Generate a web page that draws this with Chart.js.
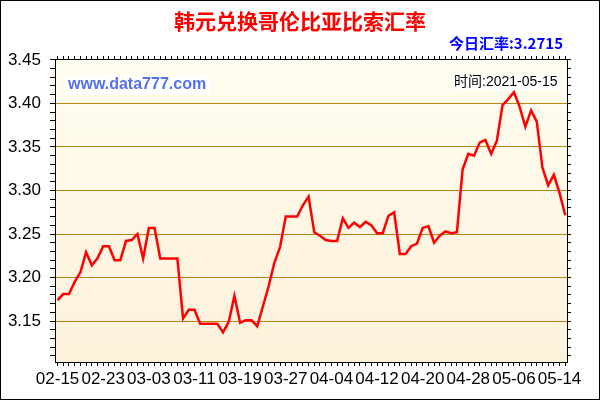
<!DOCTYPE html>
<html>
<head>
<meta charset="utf-8">
<script src="https://cdn.jsdelivr.net/npm/chart.js@4"></script>
<style>
html,body{margin:0;padding:0;background:#fff;}
#wrap{width:600px;height:400px;}
</style>
</head>
<body>
<div id="wrap"><canvas id="c" width="600" height="400"></canvas></div>
<script>
const chartTitle = '韩元兑换哥伦比亚比索汇率';
const todayRateText = '今日汇率:3.2715';
const timeText = '时间:2021-05-15';
const watermark = 'www.data777.com';

const dates = [
'02-15','02-16','02-17','02-18','02-19','02-20','02-21','02-22','02-23','02-24','02-25','02-26','02-27','02-28',
'03-01','03-02','03-03','03-04','03-05','03-06','03-07','03-08','03-09','03-10','03-11','03-12','03-13','03-14','03-15','03-16',
'03-17','03-18','03-19','03-20','03-21','03-22','03-23','03-24','03-25','03-26','03-27','03-28','03-29','03-30','03-31',
'04-01','04-02','04-03','04-04','04-05','04-06','04-07','04-08','04-09','04-10','04-11','04-12','04-13','04-14','04-15',
'04-16','04-17','04-18','04-19','04-20','04-21','04-22','04-23','04-24','04-25','04-26','04-27','04-28','04-29','04-30',
'05-01','05-02','05-03','05-04','05-05','05-06','05-07','05-08','05-09','05-10','05-11','05-12','05-13','05-14','05-15'
];

const rates = [
3.174,3.181,3.181,3.195,3.206,3.229,3.214,3.222,3.236,3.236,
3.220,3.220,3.242,3.243,3.250,3.222,3.257,3.257,3.222,3.222,
3.222,3.222,3.153,3.163,3.163,3.147,3.147,3.147,3.147,3.137,
3.149,3.179,3.148,3.151,3.151,3.144,3.167,3.190,3.217,3.235,
3.270,3.270,3.270,3.283,3.293,3.252,3.248,3.243,3.242,3.242,
3.268,3.257,3.263,3.258,3.264,3.260,3.251,3.251,3.271,3.275,
3.227,3.227,3.236,3.239,3.257,3.259,3.240,3.248,3.253,3.251,
3.252,3.324,3.342,3.340,3.355,3.358,3.342,3.357,3.398,3.405,
3.413,3.396,3.373,3.392,3.379,3.326,3.306,3.318,3.297,3.2715
];

const xTickLabels = ['02-15','02-23','03-03','03-11','03-19','03-27','04-04','04-12','04-20','04-28','05-06','05-14'];
const yTickLabels = [3.15,3.20,3.25,3.30,3.35,3.40,3.45];
const yMinorTicks = [3.11,3.12,3.13,3.14,3.15,3.16,3.17,3.18,3.19,3.20,3.21,3.22,3.23,3.24,3.25,3.26,3.27,3.28,3.29,3.30,
  3.31,3.32,3.33,3.34,3.35,3.36,3.37,3.38,3.39,3.40,3.41,3.42,3.43,3.44,3.45];

const narrow = "'Liberation Sans Narrow', 'Arial Narrow', Arial, sans-serif";
const isMajor = v => yTickLabels.some(t => Math.abs(t - v) < 1e-6);

const dayTicks = axis => { axis.ticks = dates.map((d, i) => ({value: i})); };
const yTicks = axis => { axis.ticks = yMinorTicks.map(v => ({value: v})); };

const decor = {
  id: 'decor',
  beforeDraw(chart) {
    const {ctx, chartArea: a} = chart;
    ctx.save();
    ctx.fillStyle = '#ffffff';
    ctx.fillRect(0, 0, chart.width, chart.height);
    const g = ctx.createLinearGradient(0, a.top, 0, a.bottom);
    g.addColorStop(0, '#FFFDF0');
    g.addColorStop(1, '#FDF1DA');
    ctx.fillStyle = g;
    ctx.fillRect(a.left, a.top, a.right - a.left, a.bottom - a.top);
    ctx.restore();
  },
  afterDraw(chart) {
    const {ctx} = chart;
    ctx.save();
    ctx.font = "bold 15px 'Noto Sans CJK SC', Arial, sans-serif";
    ctx.fillStyle = '#0000FF';
    ctx.textAlign = 'right';
    ctx.textBaseline = 'middle';
    ctx.fillText(todayRateText, 563, 43);
    ctx.fillStyle = '#ffffff';
    ctx.fillRect(66, 76, 144, 18);
    ctx.font = "bold 16px 'Liberation Sans', Arial, sans-serif";
    ctx.fillStyle = '#5470EA';
    ctx.textAlign = 'left';
    ctx.fillText(watermark, 68, 85);
    ctx.font = "14px 'Liberation Sans', 'Noto Sans CJK SC', sans-serif";
    const w = ctx.measureText(timeText).width;
    ctx.fillStyle = '#ffffff';
    ctx.fillRect(452, 74, w + 4, 16);
    ctx.fillStyle = '#000000';
    ctx.fillText(timeText, 454, 82);
    ctx.strokeStyle = '#000000';
    ctx.lineWidth = 1;
    ctx.strokeRect(0.5, 0.5, chart.width - 1, chart.height - 1);
    ctx.restore();
  }
};

new Chart(document.getElementById('c'), {
  type: 'line',
  data: {
    datasets: [{
      data: rates.map((v, i) => ({x: i, y: v})),
      borderColor: '#FF0000',
      borderWidth: 2.5,
      pointRadius: 0,
      tension: 0,
      fill: false
    }]
  },
  options: {
    responsive: false,
    animation: false,
    devicePixelRatio: 1,
    layout: {padding: 0},
    plugins: {
      legend: {display: false},
      tooltip: {enabled: false},
      title: {
        display: true,
        text: chartTitle,
        color: '#FF0000',
        font: {family: "'Noto Sans CJK SC', sans-serif", size: 21, weight: 'bold'},
        padding: {top: 8, bottom: 0}
      }
    },
    scales: {
      x: {
        type: 'linear', position: 'bottom', min: -0.45, max: 89.3,
        afterBuildTicks: dayTicks,
        afterFit: s => { s.height = 38; },
        ticks: {
          autoSkip: false, maxRotation: 0, minRotation: 0, padding: 3,
          color: '#000', font: {family: narrow, size: 17},
          callback: v => xTickLabels.includes(dates[v]) ? dates[v] : ''
        },
        grid: {drawOnChartArea: false, tickLength: 4, tickColor: '#000'},
        border: {color: '#000', width: 1}
      },
      xTop: {
        type: 'linear', position: 'top', min: -0.45, max: 89.3,
        afterBuildTicks: dayTicks,
        afterFit: s => { s.height = 25.8; },
        ticks: {display: false, autoSkip: false},
        grid: {drawOnChartArea: false, tickLength: 3, tickColor: '#000'},
        border: {color: '#000', width: 1}
      },
      y: {
        type: 'linear', position: 'left', min: 3.103, max: 3.451,
        afterBuildTicks: yTicks,
        afterFit: s => { s.width = 55; },
        ticks: {
          autoSkip: false,
          padding: 9, color: '#000', font: {family: narrow, size: 17},
          callback: v => isMajor(v) ? v.toFixed(2) : ''
        },
        grid: {
          tickLength: 5,
          tickColor: '#000',
          color: c => (c.tick && isMajor(c.tick.value)) ? '#B8860B' : 'rgba(0,0,0,0)',
          lineWidth: 1
        },
        border: {color: '#000', width: 1}
      },
      yRight: {
        type: 'linear', position: 'right', min: 3.103, max: 3.451,
        afterBuildTicks: yTicks,
        afterFit: s => { s.width = 33; },
        ticks: {display: false, autoSkip: false},
        grid: {drawOnChartArea: false, tickLength: 4, tickColor: '#000'},
        border: {color: '#000', width: 1}
      }
    }
  },
  plugins: [decor]
});
</script>
</body>
</html>
